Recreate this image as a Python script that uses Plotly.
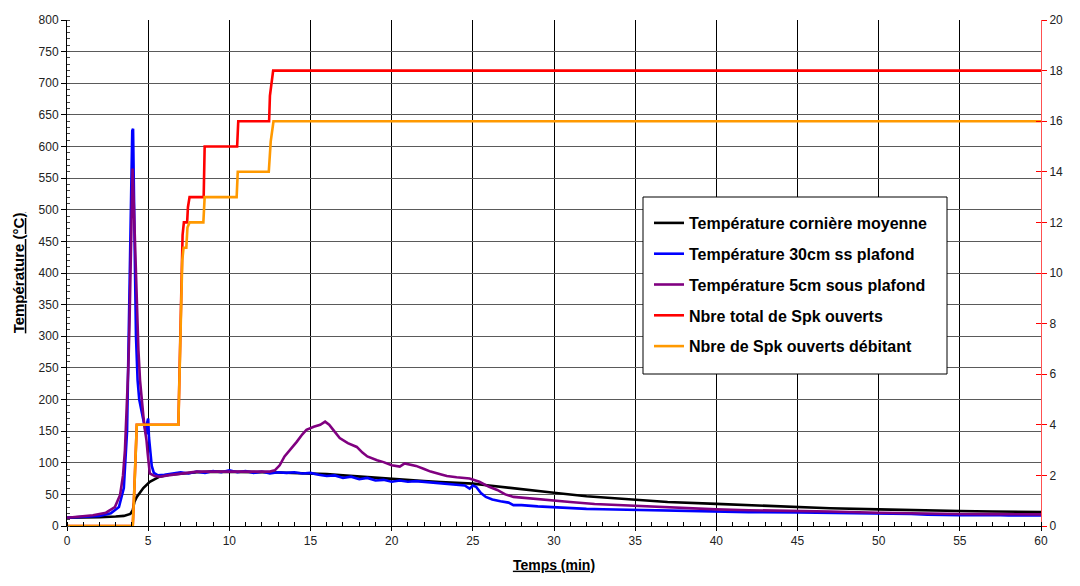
import plotly.graph_objects as go

# ---------------- data ----------------
t_black = [0, 1, 2, 3, 3.5, 3.9, 4.05, 4.15, 4.3, 4.5, 4.7, 5.1, 5.7, 6.3, 7.0, 8, 9, 10, 11, 12,
           13, 14, 15, 16, 17, 18, 19, 20, 21, 22, 23, 24, 25, 26, 27, 28, 29, 30, 32, 35, 37,
           40, 42, 45, 47, 50, 52, 55, 57, 60]
v_black = [13, 13, 14, 15, 16, 19, 25, 38, 46, 53, 60, 70, 78, 81, 83, 85, 86, 86, 85.5, 85,
           84.5, 84, 83, 82, 80, 78, 76, 74, 72.5, 71, 69.5, 68.5, 67, 64, 61, 57.5, 55, 52.5, 47,
           41, 38, 35, 33, 29.5, 28, 26.3, 25, 23.7, 23, 22]

t_blue = [0, 1, 2, 2.7, 3.2, 3.5, 3.7, 3.8, 3.9, 3.97, 4.02, 4.07, 4.12, 4.18, 4.25, 4.35, 4.45,
          4.6, 4.75, 4.88, 4.95, 5.0, 5.05, 5.12, 5.22, 5.35, 5.6, 6, 6.5, 7, 7.5, 8, 8.5, 9, 9.5,
          10, 10.5, 11, 11.5, 12, 12.5, 13, 13.5, 14, 14.5, 15, 15.5, 16, 16.5, 17, 17.5, 18,
          18.5, 19, 19.5, 20, 20.5, 21, 21.5, 22, 22.5, 23, 23.5, 24, 24.5, 24.8, 25.0, 25.2,
          25.5, 25.8, 26.2, 26.7, 27.2, 27.5, 28, 29, 30, 31, 32, 33, 35, 37, 40, 42, 45, 47,
          50, 52, 53, 55, 57, 58, 60]
v_blue = [13, 14, 16, 20, 30, 60, 150, 300, 450, 560, 625, 628, 560, 420, 300, 230, 200,
          180, 160, 145, 165, 170, 140, 115, 95, 84, 80, 81, 83, 85, 83, 86, 84, 87, 85,
          88, 85, 87, 84, 86, 83, 85, 84, 85, 83, 84, 81, 79, 80, 76, 78, 74,
          76, 72, 73, 70, 72, 70, 71, 70, 69, 68, 67, 66, 64, 59, 64, 62,
          52, 46, 42, 39, 37, 33, 33, 31, 29.5, 28, 27, 26.5, 25.3, 24, 22.6, 22, 21.6, 21,
          20, 19, 18, 17, 17.5, 16.5, 16.5]

t_purple = [0, 1, 1.6, 2.4, 2.95, 3.27, 3.45, 3.57, 3.68, 3.78, 3.85, 3.92, 3.98, 4.04, 4.1,
            4.19, 4.3, 4.4, 4.5, 4.6, 4.7, 4.8, 4.9, 4.97, 5.03, 5.1, 5.4, 5.73, 6.2, 6.96,
            7.5, 8, 9, 10, 11, 12, 12.5, 12.8, 13.1, 13.4, 13.8, 14.15, 14.5, 14.75, 15.2,
            15.6, 15.9, 16.15, 16.4, 16.8, 17.3, 17.85, 18.2, 18.5, 19.1, 19.5, 20, 20.5,
            20.8, 21.2, 21.5, 22, 22.4, 23, 23.4, 24, 24.8, 25.4, 26, 26.5, 27, 27.5, 28.5,
            29.2, 30, 31, 32.5, 35, 37, 40, 42, 45, 47, 50, 52, 55, 57, 60]
v_purple = [13, 15, 17, 21, 30, 49, 80, 120, 180, 252, 320, 400, 490, 565, 520,
            436, 350, 278, 230, 199, 175, 152, 135, 115, 95, 83, 79, 78, 80, 83,
            84, 86, 86, 86, 87, 86, 86, 88, 96, 110, 122, 133, 145, 152, 157,
            160, 165, 160, 152, 139, 131, 125, 116, 110, 104, 101, 96, 94,
            99, 97, 95, 90, 86, 82, 79, 77, 75, 70, 62, 57, 50, 46, 44,
            42, 41, 38, 34.8, 31.6, 29, 26.3, 25, 24.2, 23, 21, 20, 19, 18.8, 18.4]

t_red = [0, 4.05, 4.12, 4.2, 4.3, 6.86, 6.95, 7.03, 7.08, 7.12, 7.2, 7.4, 7.45, 7.55, 8.42,
         8.48, 10.48, 10.55, 12.45, 12.5, 12.7, 60]
v_red = [0, 0, 1, 2.5, 4, 4, 6.5, 9, 10, 11.5, 12, 12, 12.6, 13, 13,
         15, 15, 16, 16, 17, 18, 18]

t_orange = [0, 4.05, 4.12, 4.2, 4.3, 6.86, 6.95, 7.05, 7.1, 7.18, 7.35, 7.42, 7.55, 8.4, 8.48,
            10.45, 10.52, 12.43, 12.55, 12.72, 60]
v_orange = [0, 0, 1, 2.5, 4, 4, 6.5, 9, 10.5, 11, 11, 11.8, 12, 12, 13,
            13, 14, 14, 15.2, 16, 16]

names = ["Température cornière moyenne", "Température 30cm ss plafond",
         "Température 5cm sous plafond", "Nbre total de Spk ouverts",
         "Nbre de Spk ouverts débitant"]
colors = ["#000000", "#0000FF", "#800080", "#FF0000", "#FF9900"]

# ---------------- figure ----------------
FONT = "Arial, Liberation Sans, sans-serif"
W, H = 1080, 586
L, R, T, B = 67, 39, 20, 60
pw, ph = W - L - R, H - T - B


def px_x(p):
    return (p - L) / pw


def px_y(p):
    return (H - B - p) / ph


fig = go.Figure()
series = [(t_black, v_black, "y"), (t_blue, v_blue, "y"), (t_purple, v_purple, "y"),
          (t_red, v_red, "y2"), (t_orange, v_orange, "y2")]
for i, (tt, vv, ax) in enumerate(series):
    fig.add_trace(go.Scatter(x=tt, y=vv, mode="lines", name=names[i], yaxis=ax,
                             legendgroup=str(i),
                             line=dict(color=colors[i], width=2.6)))
# dummy trace for inner half of right-axis cross ticks
fig.add_trace(go.Scatter(x=[None], y=[None], yaxis="y3", showlegend=False, hoverinfo="skip"))

# legend frame
fig.add_shape(type="rect", xref="paper", yref="paper",
              x0=px_x(643), x1=px_x(947), y0=px_y(374), y1=px_y(197),
              fillcolor="white", line=dict(color="black", width=1), layer="above")

fig.update_layout(
    width=W, height=H,
    margin=dict(l=L, r=R, t=T, b=B, autoexpand=False),
    paper_bgcolor="white", plot_bgcolor="white",
    font=dict(family=FONT, size=12, color="#222"),
    showlegend=True,
    legend=dict(x=px_x(649), y=px_y(206), xanchor="left", yanchor="top",
                bgcolor="rgba(0,0,0,0)", borderwidth=0,
                font=dict(family=FONT, size=16, color="black", weight="bold"),
                tracegroupgap=7, itemwidth=30),
    xaxis=dict(range=[0, 60], tick0=0, dtick=5, showgrid=True, gridcolor="#000000",
               gridwidth=1, zeroline=False, showline=True, linecolor="black", linewidth=1,
               ticks="outside", ticklen=4, tickcolor="black",
               minor=dict(dtick=1, ticks="inside", ticklen=4, tickcolor="black", showgrid=False),
               tickfont=dict(size=12, color="#222"),
               title=dict(text="<b><u>Temps (min)</u></b>", font=dict(size=14, color="black"),
                          standoff=12)),
    yaxis=dict(range=[0, 800], tick0=0, dtick=50, showgrid=True, gridcolor="#5a5a5a",
               gridwidth=1, zeroline=False, showline=True, linecolor="black", linewidth=1,
               ticks="outside", ticklen=5, tickcolor="black",
               minor=dict(dtick=10, ticks="inside", ticklen=3, tickcolor="#444", showgrid=False),
               tickfont=dict(size=12, color="#222"),
               title=dict(text="<b><u>Température (°C)</u></b>", font=dict(size=15, color="black"),
                          standoff=10)),
    yaxis2=dict(range=[0, 20], tick0=0, dtick=2, overlaying="y", side="right",
                showgrid=False, zeroline=False, showline=True, linecolor="#FF5050",
                linewidth=1, ticks="outside", ticklen=5, tickcolor="#FF0000",
                tickfont=dict(size=12, color="#222")),
    yaxis3=dict(range=[0, 20], tick0=0, dtick=2, overlaying="y", side="right",
                anchor="x", showgrid=False, zeroline=False, showline=False,
                ticks="inside", ticklen=5, tickcolor="#FF0000", showticklabels=False),
)

fig.write_html("out.html")
